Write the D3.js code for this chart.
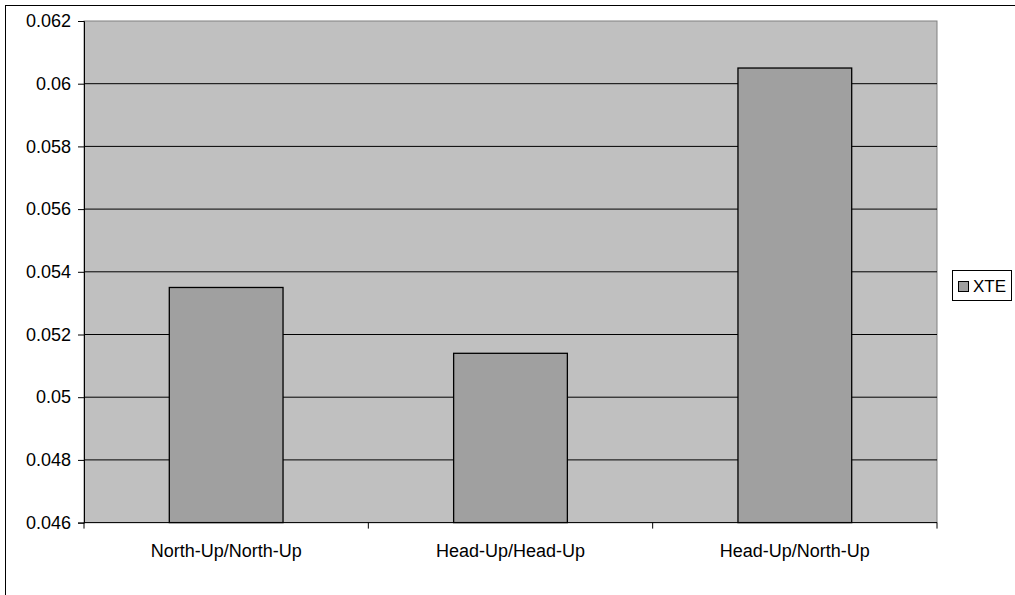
<!DOCTYPE html>
<html>
<head>
<meta charset="utf-8">
<script src="https://cdn.jsdelivr.net/npm/d3@7"></script>
<style>
  body { margin: 0; background: #fff; }
  text { font-family: "Liberation Sans", Arial, sans-serif; fill: #000; }
</style>
</head>
<body>
<script>
// chart data
var categories = ["North-Up/North-Up", "Head-Up/Head-Up", "Head-Up/North-Up"];
var xteValues = [0.0535, 0.0514, 0.0605];
var yTicks = [0.046, 0.048, 0.05, 0.052, 0.054, 0.056, 0.058, 0.06, 0.062];
var seriesName = "XTE";

var svg = d3.select("body").append("svg")
    .attr("width", 1015)
    .attr("height", 595);

// outer chart border
svg.append("rect")
    .attr("x", 5.5).attr("y", 5.5)
    .attr("width", 1020).attr("height", 600)
    .attr("fill", "none").attr("stroke", "#000");

var plotLeft = 84, plotTop = 21, plotRight = 937, plotBottom = 522.6;

var x = d3.scaleBand()
    .domain(categories)
    .range([plotLeft, plotRight])
    .paddingInner(0.6)
    .paddingOuter(0.3);

var y = d3.scaleLinear()
    .domain([0.046, 0.062])
    .range([plotBottom, plotTop]);

// plot background
svg.append("rect")
    .attr("x", plotLeft).attr("y", plotTop)
    .attr("width", plotRight - plotLeft).attr("height", plotBottom - plotTop)
    .attr("fill", "#c0c0c0")
    .attr("stroke", "#808080");

// gridlines
svg.selectAll("line.grid")
    .data(yTicks.slice(1, -1))
    .enter()
    .append("line")
    .attr("class", "grid")
    .attr("x1", plotLeft).attr("x2", plotRight)
    .attr("y1", function(d){ return y(d) })
    .attr("y2", function(d){ return y(d) })
    .attr("stroke", "#000");

// bars
svg.selectAll("rect.bar")
    .data(xteValues)
    .enter()
    .append("rect")
    .attr("class", "bar")
    .attr("x", function(d, i){ return x(categories[i]) })
    .attr("width", x.bandwidth())
    .attr("y", function(d){ return y(d) })
    .attr("height", function(d){ return plotBottom - y(d) })
    .attr("fill", "#a0a0a0")
    .attr("stroke", "#000")
    .attr("stroke-width", 1.3);

// y axis
var yAxis = d3.axisLeft(y)
    .tickValues(yTicks)
    .tickFormat(function(d){ return String(+d.toFixed(3)) })
    .tickSize(6)
    .tickPadding(7);

var gy = svg.append("g")
    .attr("transform", "translate(" + plotLeft + ",0)")
    .call(yAxis);
gy.select(".domain").attr("stroke", "#000");
gy.selectAll(".tick line").attr("stroke", "#000");
gy.selectAll("text").style("font-size", "18px").attr("fill", "#000");

// x axis
var xEdges = [0, 1, 2, 3].map(function(i){ return plotLeft + i * (plotRight - plotLeft) / 3 });

svg.append("line")
    .attr("x1", plotLeft).attr("x2", plotRight)
    .attr("y1", plotBottom).attr("y2", plotBottom)
    .attr("stroke", "#000");

svg.selectAll("line.xtick")
    .data(xEdges)
    .enter()
    .append("line")
    .attr("class", "xtick")
    .attr("x1", function(d){ return d }).attr("x2", function(d){ return d })
    .attr("y1", plotBottom).attr("y2", plotBottom + 6)
    .attr("stroke", "#000");

svg.selectAll("text.xlabel")
    .data(categories)
    .enter()
    .append("text")
    .attr("class", "xlabel")
    .attr("x", function(d){ return x(d) + x.bandwidth() / 2 })
    .attr("y", 557)
    .attr("text-anchor", "middle")
    .style("font-size", "18px")
    .text(function(d){ return d });

// legend
var legend = svg.append("g");
legend.append("rect")
    .attr("x", 952.5).attr("y", 270.5)
    .attr("width", 59).attr("height", 30)
    .attr("fill", "#fff").attr("stroke", "#000");
legend.append("rect")
    .attr("x", 958.5).attr("y", 281.5)
    .attr("width", 10).attr("height", 10)
    .attr("fill", "#a0a0a0").attr("stroke", "#000");
legend.append("text")
    .attr("x", 973).attr("y", 292)
    .style("font-size", "17px")
    .text(seriesName);
</script>
</body>
</html>
